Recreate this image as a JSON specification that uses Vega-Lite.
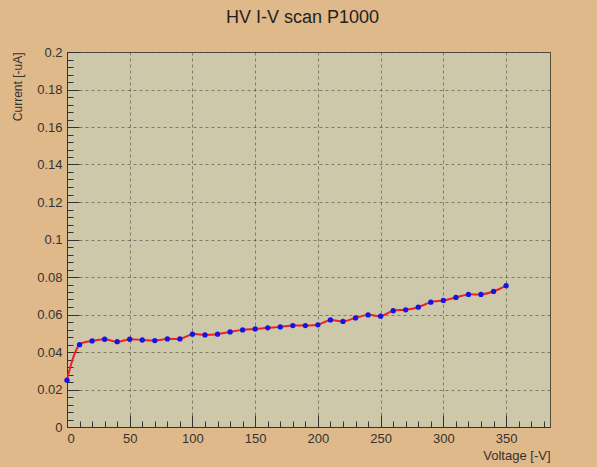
{
  "$schema": "https://vega.github.io/schema/vega-lite/v6.json",
  "autosize": {"type": "none"},
  "padding": {"left": 67, "top": 52, "right": 47, "bottom": 40},
  "width": 483,
  "height": 375,
  "background": "#dfb98a",
  "title": {"text": "HV I-V scan P1000", "fontSize": 18, "font": "Liberation Sans", "fontWeight": "normal", "color": "#222222", "anchor": "middle", "frame": "group", "offset": 19, "dx": -6},
  "config": {
    "view": {"fill": "#cdc8aa", "stroke": "#5a4a3a", "strokeWidth": 1},
    "axis": {"labelFont": "Liberation Sans", "titleFont": "Liberation Sans", "labelColor": "#333333", "titleColor": "#333333", "labelFontSize": 13, "titleFontSize": 13, "titleFontWeight": "normal", "domainColor": "#333333", "tickColor": "#333333"}
  },
  "data": {"values": [
    {"V": 0, "I": 0.025},
    {"V": 10, "I": 0.0439},
    {"V": 20, "I": 0.0459},
    {"V": 30, "I": 0.0468},
    {"V": 40, "I": 0.0455},
    {"V": 50, "I": 0.0468},
    {"V": 60, "I": 0.0464},
    {"V": 70, "I": 0.0461},
    {"V": 80, "I": 0.047},
    {"V": 90, "I": 0.047},
    {"V": 100, "I": 0.0495},
    {"V": 110, "I": 0.0491},
    {"V": 120, "I": 0.0495},
    {"V": 130, "I": 0.0507},
    {"V": 140, "I": 0.0518},
    {"V": 150, "I": 0.0523},
    {"V": 160, "I": 0.0529},
    {"V": 170, "I": 0.0534},
    {"V": 180, "I": 0.0541},
    {"V": 190, "I": 0.0541},
    {"V": 200, "I": 0.0545},
    {"V": 210, "I": 0.0571},
    {"V": 220, "I": 0.0563},
    {"V": 230, "I": 0.0582},
    {"V": 240, "I": 0.0598},
    {"V": 250, "I": 0.0591},
    {"V": 260, "I": 0.062},
    {"V": 270, "I": 0.0625},
    {"V": 280, "I": 0.0639},
    {"V": 290, "I": 0.0666},
    {"V": 300, "I": 0.0675},
    {"V": 310, "I": 0.0691},
    {"V": 320, "I": 0.0707},
    {"V": 330, "I": 0.0707},
    {"V": 340, "I": 0.0723},
    {"V": 350, "I": 0.0754}
  ]},
  "layer": [
    {
      "mark": {"type": "line", "color": "#f02020", "strokeWidth": 2, "interpolate": "catmull-rom"},
      "encoding": {
        "x": {"field": "V", "type": "quantitative", "scale": {"domain": [0, 385], "nice": false, "zero": false},
          "axis": {"orient": "bottom", "title": "Voltage [-V]", "values": [0, 50, 100, 150, 200, 250, 300, 350], "grid": true, "gridColor": "#3a3a3a", "gridDash": [3, 3], "gridOpacity": 0.55, "tickSize": -12, "labelPadding": 17, "titleAnchor": "end", "titleAlign": "right", "titleX": 483, "titleY": 28, "titleBaseline": "middle"}},
        "y": {"field": "I", "type": "quantitative", "scale": {"domain": [0, 0.2], "nice": false, "zero": false},
          "axis": {"orient": "left", "title": "Current [-uA]", "values": [0, 0.02, 0.04, 0.06, 0.08, 0.1, 0.12, 0.14, 0.16, 0.18, 0.2], "format": "~g", "grid": true, "gridColor": "#3a3a3a", "gridDash": [3, 3], "gridOpacity": 0.55, "tickSize": -12, "labelPadding": 17, "titleAngle": -90, "titleAlign": "right", "titleBaseline": "middle", "titleX": -50, "titleY": 0, "titleFontSize": 12}}
      }
    },
    {
      "mark": {"type": "point", "filled": true, "color": "#1414e6", "opacity": 1, "size": 28},
      "encoding": {
        "x": {"field": "V", "type": "quantitative",
          "axis": {"orient": "bottom", "title": null, "labels": false, "grid": false, "domain": false, "tickSize": -6, "values": [0, 10, 20, 30, 40, 60, 70, 80, 90, 110, 120, 130, 140, 160, 170, 180, 190, 210, 220, 230, 240, 260, 270, 280, 290, 310, 320, 330, 340, 360, 370, 380]}},
        "y": {"field": "I", "type": "quantitative",
          "axis": {"orient": "left", "title": null, "labels": false, "grid": false, "domain": false, "tickSize": -6, "values": [0.004, 0.008, 0.012, 0.016, 0.024, 0.028, 0.032, 0.036, 0.044, 0.048, 0.052, 0.056, 0.064, 0.068, 0.072, 0.076, 0.084, 0.088, 0.092, 0.096, 0.104, 0.108, 0.112, 0.116, 0.124, 0.128, 0.132, 0.136, 0.144, 0.148, 0.152, 0.156, 0.164, 0.168, 0.172, 0.176, 0.184, 0.188, 0.192, 0.196]}}
      }
    }
  ],
  "resolve": {"axis": {"x": "independent", "y": "independent"}}
}
